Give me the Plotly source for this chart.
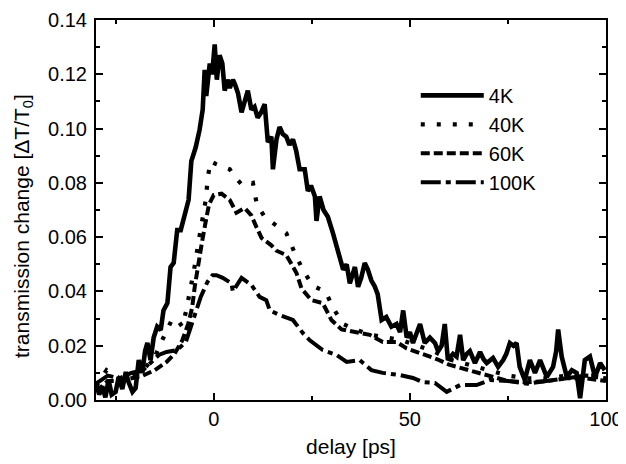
import plotly.graph_objects as go

# ---- data ----
x_4k = [-30, -29.2, -28.4, -27.6, -26.8, -26, -25, -24.2, -23.3, -22.4, -21.7, -20.7, -19.9, -19.1,
        -18.2, -17.5, -16.9, -16.1, -15.3, -14.4, -13.5, -12.8, -11.8, -11, -10.2, -9.3, -8.4, -7.1,
        -6.4, -5.7, -4.6, -3.6, -2.8, -2.3, -1.9, -1, -0.4, 0.26, 0.8, 1.5, 2.2, 2.8, 3.5, 4.1, 4.9,
        5.5, 6.2, 7.1, 7.8, 8.7, 9.6, 10.4, 11.2, 12.1, 13, 13.8, 14.7, 15.1, 16, 16.8, 17.6, 18.5,
        19.3, 20.2, 21, 21.9, 23.2, 24, 24.8, 25.8, 26.2, 27, 28, 29.1, 30.4, 31.7, 33, 33.9, 34.7,
        36, 36.8, 37.6, 38.5, 39.3, 40.2, 41, 41.8, 42.8, 44, 45.3, 46.6, 47.5, 48.3, 49.2, 50, 50.8,
        51.7, 52.6, 53.8, 55.1, 56.4, 57.2, 58.1, 58.9, 59.7, 61, 61.9, 62.8, 63.6, 64.5, 65.3, 66.6,
        67.9, 68.8, 69.6, 71.2, 72.5, 73.8, 74.6, 75.5, 76.4, 77.2, 78, 79.3, 80.6, 81.9, 83.2, 84.9,
        86.5, 87.3, 87.8, 88.7, 90, 91.3, 92.5, 93.4, 94.6, 95.9, 97.2, 98.5, 99.7]
y_4k = [0.007, 0.002, 0.005, 0.001, 0.0074, 0.002, 0.003, 0.0085, 0.004, 0.0103, 0.0066, 0.003, 0.0044,
        0.0147, 0.010, 0.018, 0.021, 0.0147, 0.023, 0.027, 0.0258, 0.033, 0.0357, 0.049, 0.0505,
        0.0626, 0.0626, 0.070, 0.0737, 0.088, 0.093, 0.0995, 0.107, 0.1216, 0.112, 0.124, 0.120,
        0.131, 0.118, 0.127, 0.124, 0.114, 0.118, 0.115, 0.118, 0.116, 0.113, 0.106, 0.110, 0.114,
        0.107, 0.108, 0.104, 0.106, 0.109, 0.095, 0.097, 0.085, 0.096, 0.1006, 0.098, 0.097, 0.094,
        0.096, 0.092, 0.085, 0.085, 0.077, 0.079, 0.075, 0.066, 0.075, 0.070, 0.0675, 0.0615, 0.055,
        0.048, 0.050, 0.043, 0.049, 0.0417, 0.045, 0.0505, 0.048, 0.044, 0.042, 0.039, 0.0295,
        0.0306, 0.027, 0.028, 0.025, 0.033, 0.023, 0.025, 0.021, 0.024, 0.028, 0.021, 0.023, 0.021,
        0.018, 0.020, 0.028, 0.0147, 0.017, 0.016, 0.024, 0.0147, 0.017, 0.018, 0.0136, 0.0177,
        0.015, 0.0136, 0.0155, 0.0122, 0.0147, 0.017, 0.021, 0.020, 0.021, 0.0122, 0.0074, 0.0147,
        0.010, 0.0147, 0.0085, 0.0122, 0.018, 0.026, 0.016, 0.0085, 0.011, 0.010, 0.0007, 0.0147,
        0.016, 0.0085, 0.0136, 0.011]

x_40k = [-30, -27.3, -24, -21, -18, -15, -12.5, -10.5, -9, -8, -7, -6, -5, -4, -3, -2, -1.5, -0.8,
         0.5, 2, 4.1, 5.5, 7.4, 10, 11, 13, 16, 18.5, 20.7, 22.7, 25.3, 28.5, 30.4, 33, 36, 40, 44,
         48, 52, 56, 60, 65, 70, 75, 80, 85, 90, 95, 100]
y_40k = [0.005, 0.011, 0.008, 0.009, 0.011, 0.016, 0.024, 0.030, 0.029, 0.027, 0.033, 0.040, 0.048,
         0.057, 0.065, 0.074, 0.082, 0.088, 0.087, 0.086, 0.085, 0.082, 0.079, 0.080, 0.072, 0.0675,
         0.064, 0.0615, 0.054, 0.048, 0.042, 0.040, 0.034, 0.028, 0.026, 0.024, 0.023, 0.022, 0.020,
         0.018, 0.015, 0.013, 0.011, 0.009, 0.008, 0.008, 0.009, 0.009, 0.009]

x_60k = [-30, -27, -24, -21, -18, -15, -12, -10, -8, -6.5, -5.5, -4.8, -4, -3, -2, -1.2, 0, 2, 4.1,
         5.8, 7.9, 9.6, 10.9, 12.2, 14.7, 16, 18.5, 21.1, 22.4, 24.9, 27.8, 30, 32.6, 36, 39.8, 43.1,
         46.6, 49.2, 53, 57, 60, 65, 70, 75, 80, 85, 90, 95, 100]
y_60k = [0.003, 0.007, 0.007, 0.008, 0.009, 0.011, 0.014, 0.017, 0.022, 0.028, 0.034, 0.042, 0.050,
         0.058, 0.066, 0.072, 0.0755, 0.076, 0.0737, 0.069, 0.0707, 0.068, 0.0637, 0.0597, 0.057,
         0.055, 0.0534, 0.0468, 0.041, 0.0368, 0.0357, 0.0295, 0.026, 0.025, 0.024, 0.0214, 0.0214,
         0.019, 0.017, 0.015, 0.013, 0.011, 0.009, 0.007, 0.0065, 0.007, 0.008, 0.008, 0.007]

x_100k = [-30, -27, -24, -21, -18, -16, -14, -12, -9.3, -7.1, -5.9, -4.6, -3.3, -1.6, -0.3, 0.7, 2.3,
          4.5, 4.9, 7.1, 9.6, 11.7, 13.4, 14.3, 16.8, 20.2, 22.7, 24.5, 27.8, 31.3, 33.9, 37.2, 40.2,
          43.1, 47.4, 50.8, 53.3, 56.4, 59.4, 62.8, 67, 70.4, 75, 80, 85, 90, 95, 100]
y_100k = [0.006, 0.009, 0.008, 0.010, 0.011, 0.014, 0.0166, 0.0177, 0.0184, 0.0214, 0.027, 0.033,
          0.038, 0.0435, 0.046, 0.046, 0.045, 0.043, 0.040, 0.045, 0.0424, 0.038, 0.0368, 0.033,
          0.0313, 0.0295, 0.0247, 0.022, 0.0184, 0.0166, 0.014, 0.0147, 0.011, 0.010, 0.0092,
          0.0081, 0.0066, 0.0063, 0.003, 0.0055, 0.0055, 0.0074, 0.007, 0.006, 0.007, 0.008, 0.009,
          0.008]

x_ticks = [0, 50, 100]
y_ticks = [0.00, 0.02, 0.04, 0.06, 0.08, 0.10, 0.12, 0.14]

FONT = "Liberation Sans, Arial, Helvetica, sans-serif"

fig = go.Figure()
series = [
    ("4K", x_4k, y_4k, "solid", 4.6),
    ("40K", x_40k, y_40k, "4px,12px", 4.2),
    ("60K", x_60k, y_60k, "9px,4px", 4.0),
    ("100K", x_100k, y_100k, "20px,5px,5px,5px", 4.0),
]
for name, xs, ys, dash, w in series:
    fig.add_trace(go.Scatter(x=xs, y=ys, mode="lines", name=name,
                             line=dict(color="black", width=w, dash=dash)))

axis_common = dict(
    showline=True, linecolor="black", linewidth=2, mirror="ticks",
    ticks="inside", ticklen=7, tickwidth=1.5, tickcolor="black",
    showgrid=False, zeroline=False, automargin=False,
    tickfont=dict(family=FONT, size=20, color="black"),
)
fig.update_xaxes(range=[-30, 100], tickvals=x_ticks,
                 minor=dict(dtick=25, tick0=0, ticks="inside", ticklen=4, tickcolor="black", tickwidth=1.5),
                 title=dict(text="delay [ps]", font=dict(family=FONT, size=21, color="black"), standoff=10),
                 **axis_common)
fig.update_yaxes(range=[0, 0.14], tickvals=y_ticks, tickformat=".2f", ticklabelstandoff=3,
                 minor=dict(dtick=0.01, tick0=0, ticks="inside", ticklen=4, tickcolor="black", tickwidth=1.5),
                 **axis_common)

# y-axis title as a rotated annotation so that its position can be matched
fig.add_annotation(text="transmission change [ΔT/T<sub>0</sub>]", textangle=-90,
                   xref="paper", yref="paper", x=0, y=0.458, xshift=-73,
                   xanchor="center", yanchor="middle", showarrow=False,
                   font=dict(family=FONT, size=21, color="black"))

# the page body has an 8px default margin, so the figure is drawn 8px smaller
fig.update_layout(
    width=618, height=456,
    margin=dict(l=88, r=20, t=12, b=64),
    paper_bgcolor="white", plot_bgcolor="white",
    showlegend=True,
    legend=dict(x=0.627, y=0.853, xanchor="left", yanchor="top",
                font=dict(family=FONT, size=20, color="black"),
                bgcolor="rgba(0,0,0,0)", itemwidth=63, tracegroupgap=0),
)

fig.write_html("out.html")
